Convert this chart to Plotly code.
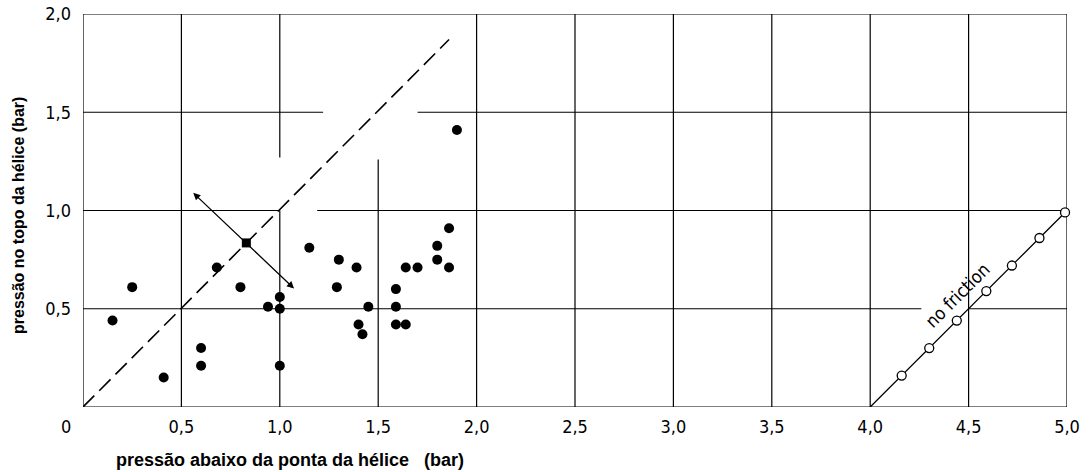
import plotly.graph_objects as go

# measured points: pressure below the propeller tip vs pressure at the propeller top (bar)
x_meas = [0.15, 0.25, 0.41, 0.60, 0.60, 0.68, 0.80, 0.94, 1.00, 1.00, 1.00,
          1.15, 1.30, 1.29, 1.39, 1.45, 1.40, 1.42, 1.59, 1.59, 1.59, 1.64,
          1.64, 1.70, 1.80, 1.80, 1.86, 1.86, 1.90]
y_meas = [0.44, 0.61, 0.15, 0.30, 0.21, 0.71, 0.61, 0.51, 0.56, 0.50, 0.21,
          0.81, 0.75, 0.61, 0.71, 0.51, 0.42, 0.37, 0.60, 0.51, 0.42, 0.42,
          0.71, 0.71, 0.82, 0.75, 0.91, 0.71, 1.41]

# "no friction" reference series
nf_x = [4.16, 4.30, 4.44, 4.59, 4.72, 4.86, 4.99]
nf_y = [0.16, 0.30, 0.44, 0.59, 0.72, 0.86, 0.99]
nf_line_x = [4.0, 5.0]
nf_line_y = [0.0, 1.0]

# diagonal y = x and the marked operating point on it
diag_x = [0.0, 1.86]
diag_y = [0.0, 1.87]
op_x = [0.83]
op_y = [0.835]

x_ticks = [0.5, 1.0, 1.5, 2.0, 2.5, 3.0, 3.5, 4.0, 4.5, 5.0]
x_labels = ["0,5", "1,0", "1,5", "2,0", "2,5", "3,0", "3,5", "4,0", "4,5", "5,0"]
y_ticks = [0.5, 1.0, 1.5, 2.0]
y_labels = ["0,5", "1,0", "1,5", "2,0"]

TICK_FONT = dict(family="DejaVu Sans Condensed, Open Sans, sans-serif",
                 size=18, color="black")
TITLE_FONT = dict(family="Arial, Liberation Sans, sans-serif", size=16, color="black")

# plot frame in pixels
L, R, T, B = 83, 23, 14, 65
W, H = 1090, 472
PW, PH = W - L - R, H - T - B

fig = go.Figure()

fig.add_trace(go.Scatter(x=diag_x, y=diag_y, mode="lines",
                         line=dict(color="black", width=1.6, dash="16px,7px"),
                         hoverinfo="skip", showlegend=False))

fig.add_trace(go.Scatter(x=x_meas, y=y_meas, mode="markers",
                         marker=dict(symbol="circle", size=10, color="black"),
                         showlegend=False, cliponaxis=False))

fig.add_trace(go.Scatter(x=op_x, y=op_y, mode="markers",
                         marker=dict(symbol="square", size=9, color="black"),
                         showlegend=False))

fig.add_trace(go.Scatter(x=nf_line_x, y=nf_line_y, mode="lines",
                         line=dict(color="black", width=1.3),
                         hoverinfo="skip", showlegend=False, cliponaxis=False))

fig.add_trace(go.Scatter(x=nf_x, y=nf_y, mode="markers",
                         marker=dict(symbol="circle", size=9, color="white",
                                     line=dict(color="black", width=1.3)),
                         showlegend=False, cliponaxis=False))

# grid lines, drawn as segments so that the open spaces around the diagonal,
# the arrows and the "no friction" label stay clear
v_segments = {
    0.0: [(0, 2)], 0.5: [(0, 2)], 1.0: [(0, 1.0), (1.27, 2)], 1.5: [(0, 1.26)],
    2.0: [(0, 2)], 2.5: [(0, 2)], 3.0: [(0, 2)], 3.5: [(0, 2)],
    4.0: [(0, 2)], 4.5: [(0, 2)], 5.0: [(0, 2)],
}
h_segments = {
    0.0: [(0, 5)], 0.5: [(0, 4.26), (4.5, 5)], 1.0: [(0, 1.0), (1.19, 5)],
    1.5: [(0, 1.22), (1.7, 5)], 2.0: [(0, 5)],
}
shapes = []
for xv, segs in v_segments.items():
    for y0, y1 in segs:
        shapes.append(dict(type="line", xref="x", yref="y", x0=xv, x1=xv, y0=y0, y1=y1,
                           line=dict(color="black", width=1.2), layer="below"))
for yv, segs in h_segments.items():
    for x0, x1 in segs:
        shapes.append(dict(type="line", xref="x", yref="y", x0=x0, x1=x1, y0=yv, y1=yv,
                           line=dict(color="black", width=1.2), layer="below"))


def px_x(p):
    return (p - L) / PW


def px_y(p):
    return (H - B - p) / PH


annotations = [
    # double-headed arrow across the diagonal through the operating point
    dict(x=0.56, y=1.09, ax=1.08, ay=0.596, xref="x", yref="y", axref="x", ayref="y",
         text="", showarrow=True, arrowhead=2, arrowsize=1.1, arrowwidth=1.3,
         arrowside="end+start", arrowcolor="black", standoff=0, startstandoff=0),
    dict(x=4.44, y=0.57, xref="x", yref="y", text="no friction", showarrow=False,
         textangle=-45, font=dict(TICK_FONT, size=18)),
    dict(x=px_x(66), y=px_y(426), xref="paper", yref="paper", text="0",
         showarrow=False, font=TICK_FONT, xanchor="center", yanchor="middle"),
    dict(x=px_x(290), y=px_y(460), xref="paper", yref="paper",
         text="<b>pressão abaixo da ponta da hélice\u00a0\u00a0\u00a0(bar)</b>",
         showarrow=False, font=dict(TITLE_FONT, size=18), xanchor="center", yanchor="middle"),
    dict(x=px_x(18), y=px_y(216), xref="paper", yref="paper",
         text="<b>pressão no topo da hélice (bar)</b>", textangle=-90,
         showarrow=False, font=TITLE_FONT, xanchor="center", yanchor="middle"),
]

fig.update_layout(
    width=W, height=H, autosize=False,
    margin=dict(l=L, r=R, t=T, b=B, pad=0, autoexpand=False),
    paper_bgcolor="white", plot_bgcolor="white",
    shapes=shapes, annotations=annotations,
    xaxis=dict(range=[0, 5], tickvals=x_ticks, ticktext=x_labels, showgrid=False,
               zeroline=False, showline=False, ticks="", ticklabelstandoff=7,
               tickfont=TICK_FONT, fixedrange=True, automargin=False),
    yaxis=dict(range=[0, 2], tickvals=y_ticks, ticktext=y_labels, showgrid=False,
               zeroline=False, showline=False, ticks="", ticklabelstandoff=11,
               tickfont=TICK_FONT, fixedrange=True, automargin=False),
)

fig.write_html("out.html")
